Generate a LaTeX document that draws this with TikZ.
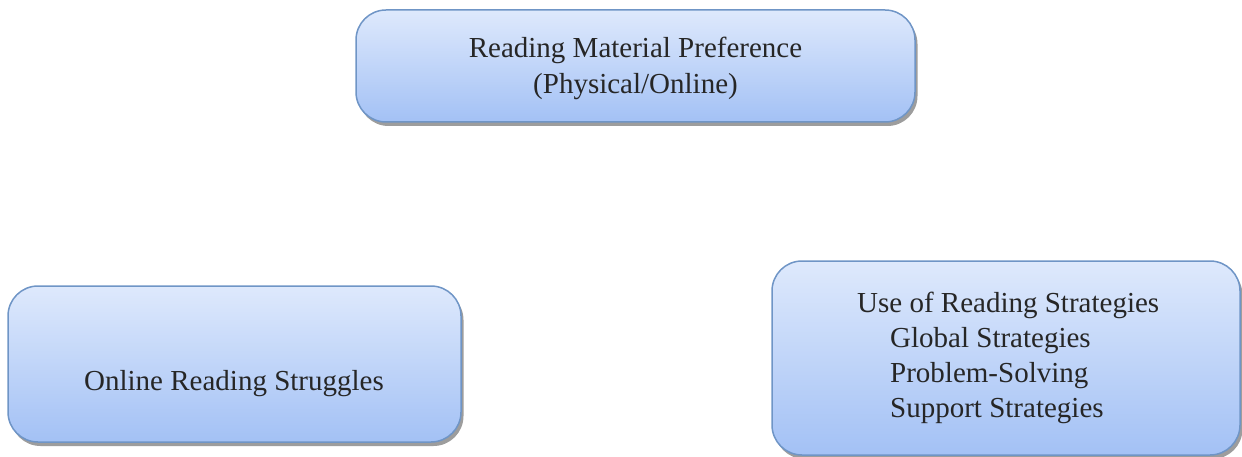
\documentclass[tikz,border=0pt]{standalone}
\usepackage{fontspec}
\setmainfont{Liberation Serif}
\usetikzlibrary{shadows}
\definecolor{boxtop}{HTML}{DEE9FC}
\definecolor{boxbot}{HTML}{A3C1F5}
\definecolor{boxline}{HTML}{6F95C6}
\tikzset{
  box/.style={rectangle, rounded corners=30pt, draw=boxline, line width=1.5pt,
    top color=boxtop, bottom color=boxbot, inner sep=0pt,
    drop shadow={shadow xshift=2.5pt, shadow yshift=-4pt, opacity=0.55, fill=black!70}},
  txt/.style={font=\fontsize{29}{36}\selectfont, text=black!85, inner sep=0pt}
}
\begin{document}
\begin{tikzpicture}[x=1pt,y=-1pt]
\useasboundingbox (0,0) rectangle (1242,457);
\node[box, minimum width=559pt, minimum height=112pt] (top) at (635.5,66) {};
\node[box, minimum width=453pt, minimum height=156pt] (left) at (234.5,364) {};
\node[box, minimum width=468pt, minimum height=194pt] (right) at (1006,358) {};
\node[txt, align=center] (toptxt) at (635.5,68) {Reading Material Preference\\(Physical/Online)};
\node[txt, anchor=base] (lefttxt) at (234,390) {Online Reading Struggles};
\node[txt, anchor=base west] (r1) at (857,312) {Use of Reading Strategies};
\node[txt, anchor=base west] (r2) at (890,347) {Global Strategies};
\node[txt, anchor=base west] (r3) at (890,382) {Problem-Solving};
\node[txt, anchor=base west] (r4) at (890,417) {Support Strategies};
\end{tikzpicture}
\end{document}
